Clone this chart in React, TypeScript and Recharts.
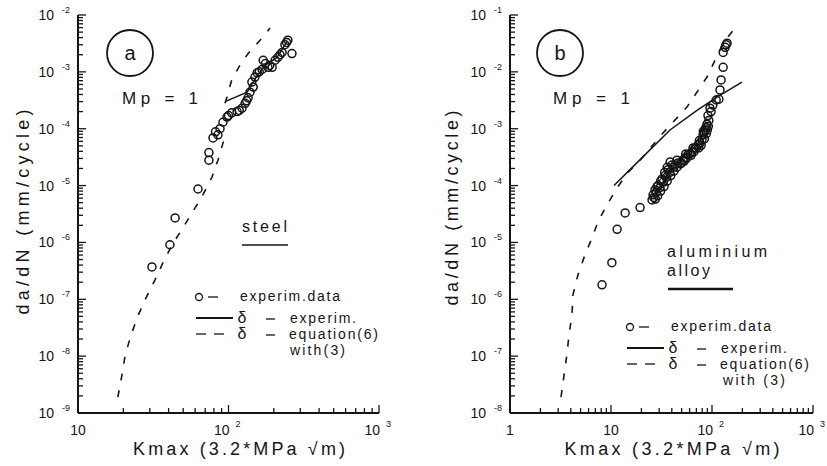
import React from 'react'
import { ScatterChart, Scatter, XAxis, YAxis } from 'recharts'

const INK = '#151515'
const FONT = '"Liberation Sans", Arial, sans-serif'

// ---- panel a: steel  [Kmax, da/dN] ----
const steelData: [number, number][] = [
  [31, 3.7e-7], [40.8, 9.1e-7], [44.2, 2.7e-6], [62.7, 8.7e-6],
  [74.1, 2.8e-5], [74.1, 3.8e-5], [78.9, 6.9e-5], [82, 8.8e-5],
  [85.1, 7.8e-5], [87.8, 1.0e-4], [91.9, 1.3e-4], [97.7, 1.6e-4],
  [100, 1.7e-4], [105, 1.9e-4], [114, 2.0e-4], [118, 2.1e-4],
  [123, 2.3e-4], [129, 2.8e-4], [132, 3.1e-4], [135, 3.5e-4],
  [139, 4.4e-4], [146, 5.4e-4], [143, 6.6e-4], [150, 8.1e-4],
  [155, 9.6e-4], [160, 1.0e-3], [167, 1.1e-3], [170, 1.6e-3],
  [176, 1.4e-3], [183, 1.2e-3], [188, 1.3e-3], [195, 1.2e-3],
  [204, 1.6e-3], [213, 1.8e-3], [220, 2.0e-3], [227, 2.2e-3],
  [237, 3.0e-3], [243, 3.3e-3], [248, 3.6e-3], [264, 2.1e-3],
]
// delta - equation(6) with (3), lower and upper branch
const steelModelLow: [number, number][] = [
  [18.4, 1.9e-9], [19.6, 4.7e-9], [20.5, 9.8e-9], [22.2, 2.1e-8],
  [24.7, 4.7e-8], [27.9, 9.8e-8], [32.5, 2.2e-7], [36.7, 4.4e-7],
  [42.2, 9.1e-7], [49.1, 1.7e-6], [57.2, 3.3e-6], [67.7, 6.9e-6],
  [77.6, 1.4e-5], [85.1, 2.8e-5], [93.3, 6.4e-5],
]
const steelModelHigh: [number, number][] = [
  [94.8, 2.8e-4], [97.7, 3.6e-4], [105, 7.2e-4], [119, 1.3e-3],
  [135, 2.1e-3], [162, 3.6e-3], [189, 5.9e-3],
]
// delta - experim.
const steelExperim: [number, number][] = [
  [94.8, 3.0e-4], [133, 4.4e-4], [150, 7.5e-4], [175, 1.3e-3],
  [210, 1.8e-3], [245, 3.4e-3],
]

// ---- panel b: aluminium alloy ----
const alloyData: [number, number][] = [
  [8.15, 1.8e-6], [10.2, 4.4e-6], [11.5, 1.7e-5], [13.8, 3.3e-5],
  [19.4, 4.1e-5], [25.5, 5.6e-5], [26.1, 6.9e-5], [26.5, 6.2e-5],
  [27.3, 8.4e-5], [28, 7.6e-5], [29.2, 1.0e-4], [30.5, 9.2e-5],
  [32, 1.3e-4], [33, 1.15e-4], [34.3, 1.5e-4], [35.5, 1.4e-4],
  [36.7, 1.9e-4], [38, 1.7e-4], [40.2, 2.3e-4], [41.5, 2.1e-4],
  [43, 2.3e-4], [46.1, 2.5e-4], [48.5, 2.4e-4], [51.6, 2.8e-4],
  [54.5, 3.1e-4], [57.8, 3.5e-4], [60.5, 3.6e-4], [63.4, 3.9e-4],
  [67.9, 4.6e-4], [70, 4.6e-4], [72.6, 5.2e-4], [76, 5.6e-4],
  [79.6, 6.4e-4], [81.5, 7.8e-4], [83.5, 8.5e-4], [85.3, 9.5e-4],
  [87, 1.05e-3], [89.2, 1.2e-3], [91.2, 1.7e-3], [95.5, 2.3e-3],
  [102, 2.6e-3], [110, 3.2e-3], [117, 3.3e-3], [120, 4.8e-3],
  [123, 7.2e-3], [129, 1.2e-2], [129, 2.2e-2], [135, 2.7e-2],
  [138, 3.0e-2], [141, 3.2e-2],
  // lower edge of the dense band
  [27.5, 5.8e-5], [29, 6.6e-5], [31, 8.0e-5], [33.5, 9.6e-5],
  [36, 1.2e-4], [39, 1.5e-4], [42, 1.8e-4], [45, 2.1e-4],
  [50, 2.5e-4], [53, 2.7e-4], [56, 3.0e-4], [62, 3.4e-4],
  [66, 3.9e-4], [74, 4.6e-4], [78, 5.1e-4], [84, 6.6e-4],
  [88, 8.2e-4], [90, 9.5e-4], [92, 1.1e-3], [93, 1.4e-3],
  [98, 2.0e-3],
  // upper edge of the dense band
  [28.5, 9.5e-5], [31, 1.2e-4], [34, 1.7e-4], [36, 2.1e-4],
  [38.5, 2.6e-4], [45, 2.8e-4], [55, 3.6e-4], [65, 4.6e-4],
  [75, 6.2e-4], [82, 9.0e-4],
]
const alloyModel: [number, number][] = [
  [3.2, 1.9e-8], [3.43, 4.7e-8], [3.67, 1.1e-7], [3.84, 2.4e-7],
  [4.11, 5.3e-7], [4.2, 1.2e-6], [4.71, 2.7e-6], [5.53, 6.1e-6],
  [6.49, 1.2e-5], [7.43, 2.3e-5], [9.13, 4.6e-5], [11.5, 9.1e-5],
  [14.7, 1.7e-4], [19.4, 2.8e-4], [32.7, 8.4e-4], [56.5, 2.4e-3],
  [89.2, 8.1e-3], [129, 3.2e-2], [169, 5.9e-2],
]
const alloyExperim: [number, number][] = [
  [10.7, 1.0e-4], [20.7, 3.2e-4], [38.4, 9.5e-4], [71, 2.1e-3],
  [112, 3.6e-3], [198, 6.6e-3],
]

// axis decades
const steelXDecades = [10, 100, 1000]
const steelYDecades = [1e-9, 1e-8, 1e-7, 1e-6, 1e-5, 1e-4, 1e-3, 1e-2]
const alloyXDecades = [1, 10, 100, 1000]
const alloyYDecades = [1e-8, 1e-7, 1e-6, 1e-5, 1e-4, 1e-3, 1e-2, 1e-1]
const minorSteps = [1, 2, 3, 4, 5, 6, 7, 8, 9]

const logTicks = (decades: number[]) => {
  const out: number[] = []
  decades.forEach((d, i) => {
    if (i === decades.length - 1) out.push(d)
    else minorSteps.forEach(m => out.push(m * d))
  })
  return out
}

const toPts = (rows: [number, number][]) => rows.map(([k, r]) => ({ k, r }))

const isDecade = (v: number) => {
  const l = Math.log10(v)
  return Math.abs(l - Math.round(l)) < 1e-6
}

// ticks point inwards; labels as 10 with a raised exponent
const YTick = (props: any) => {
  const { x, y, payload } = props
  const v = payload.value
  const major = isDecade(v)
  const e = Math.round(Math.log10(v))
  return (
    <g>
      <path d={`M${x},${y}h${major ? 8 : 5}`} stroke={INK} strokeWidth={1.3} fill="none" />
      {major && (
        <>
          <text x={x - 24} y={y + 5} textAnchor="end" fontSize={14} fill={INK} fontFamily={FONT}>10</text>
          <text x={x - 16} y={y - 2} fontSize={9} fill={INK} fontFamily={FONT}>{e}</text>
        </>
      )}
    </g>
  )
}

const XTick = (props: any) => {
  const { x, y, payload } = props
  const v = payload.value
  const major = isDecade(v)
  const e = Math.round(Math.log10(v))
  return (
    <g>
      <path d={`M${x},${y}v${major ? -8 : -5}`} stroke={INK} strokeWidth={1.3} fill="none" />
      {major && e <= 1 && (
        <text x={x} y={y + 22} textAnchor="middle" fontSize={14} fill={INK} fontFamily={FONT}>{e === 0 ? '1' : '10'}</text>
      )}
      {major && e > 1 && (
        <>
          <text x={x + 1} y={y + 22} textAnchor="end" fontSize={14} fill={INK} fontFamily={FONT}>10</text>
          <text x={x + 7} y={y + 14} fontSize={9} fill={INK} fontFamily={FONT}>{e}</text>
        </>
      )}
    </g>
  )
}

const OpenCircle = (props: any) => (
  <circle cx={props.cx} cy={props.cy} r={4} fill="none" stroke={INK} strokeWidth={1.5} />
)
const NoDot = () => <g />

const solid = { stroke: INK, strokeWidth: 1.5 }
const dashed = { stroke: INK, strokeWidth: 1.6, strokeDasharray: '7 10' }

interface PanelProps {
  width: number
  marginLeft: number
  marginRight: number
  xDecades: number[]
  yDecades: number[]
  points: [number, number][]
  dashedLines: [number, number][][]
  solidLine: [number, number][]
}

function Panel(p: PanelProps) {
  const xDomain = [p.xDecades[0], p.xDecades[p.xDecades.length - 1]]
  const yDomain = [p.yDecades[0], p.yDecades[p.yDecades.length - 1]]
  return (
    <ScatterChart
      width={p.width}
      height={466}
      margin={{ top: 15, right: p.marginRight, bottom: 13, left: p.marginLeft }}
    >
      <XAxis
        dataKey="k"
        type="number"
        scale="log"
        domain={xDomain}
        ticks={logTicks(p.xDecades)}
        interval={0}
        tick={<XTick />}
        tickLine={false}
        tickSize={0}
        tickMargin={0}
        height={40}
        axisLine={{ stroke: INK, strokeWidth: 2 }}
      />
      <YAxis
        dataKey="r"
        type="number"
        scale="log"
        domain={yDomain}
        ticks={logTicks(p.yDecades)}
        interval={0}
        tick={<YTick />}
        tickLine={false}
        tickSize={0}
        tickMargin={0}
        width={60}
        axisLine={{ stroke: INK, strokeWidth: 2 }}
      />
      {p.dashedLines.map((d, i) => (
        <Scatter
          key={'d' + i}
          data={toPts(d)}
          fill={INK}
          line={dashed}
          shape={NoDot}
          isAnimationActive={false}
        />
      ))}
      <Scatter data={toPts(p.solidLine)} fill={INK} line={solid} shape={NoDot} isAnimationActive={false} />
      <Scatter data={toPts(p.points)} fill="none" shape={OpenCircle} isAnimationActive={false} />
    </ScatterChart>
  )
}

const txt = { fill: INK, fontFamily: FONT }

function Legend({ x, y }: { x: number; y: number }) {
  // x: left of the symbol column, y: baseline of first row
  return (
    <g {...txt}>
      <circle cx={x + 3} cy={y - 4} r={3.5} fill="none" stroke={INK} strokeWidth={1.3} />
      <line x1={x + 12} x2={x + 22} y1={y - 4} y2={y - 4} stroke={INK} strokeWidth={1.3} />
      <text x={x + 44} y={y} fontSize={14} textLength={100} lengthAdjust="spacing">experim.data</text>

      <line x1={x} x2={x + 37} y1={y + 17} y2={y + 17} stroke={INK} strokeWidth={2} />
      <text x={x + 46} y={y + 22} fontSize={16} textAnchor="middle">δ</text>
      <line x1={x + 70} x2={x + 79} y1={y + 18} y2={y + 18} stroke={INK} strokeWidth={1.3} />
      <text x={x + 94} y={y + 22} fontSize={14} textLength={66} lengthAdjust="spacing">experim.</text>

      <line x1={x} x2={x + 10} y1={y + 33} y2={y + 33} stroke={INK} strokeWidth={1.3} />
      <line x1={x + 18} x2={x + 28} y1={y + 33} y2={y + 33} stroke={INK} strokeWidth={1.3} />
      <text x={x + 46} y={y + 38} fontSize={16} textAnchor="middle">δ</text>
      <line x1={x + 70} x2={x + 79} y1={y + 34} y2={y + 34} stroke={INK} strokeWidth={1.3} />
      <text x={x + 93} y={y + 38} fontSize={14} textLength={89} lengthAdjust="spacing">equation(6)</text>
    </g>
  )
}

function Annotations() {
  return (
    <svg width={827} height={466} style={{ position: 'absolute', left: 0, top: 0, pointerEvents: 'none' }}>
      <g {...txt}>
        {/* panel a */}
        <circle cx={130} cy={53} r={23} fill="none" stroke={INK} strokeWidth={1.8} />
        <text x={130} y={60} fontSize={20} textAnchor="middle">a</text>
        <text x={122} y={104} fontSize={17} textLength={76} lengthAdjust="spacing">Mp = 1</text>
        <text x={242} y={232} fontSize={16} textLength={45} lengthAdjust="spacing">steel</text>
        <line x1={242} x2={288} y1={245} y2={245} stroke={INK} strokeWidth={1.6} />
        <text transform="translate(29,212) rotate(-90)" fontSize={18} textAnchor="middle" textLength={205} lengthAdjust="spacing">da/dN (mm/cycle)</text>
        <text x={239} y={455} fontSize={18} textAnchor="middle" textLength={212} lengthAdjust="spacing">Kmax (3.2*MPa √m)</text>
        <Legend x={196} y={301} />
        <text x={290} y={355} fontSize={14} textLength={55} lengthAdjust="spacing">with(3)</text>

        {/* panel b */}
        <circle cx={560} cy={53} r={23} fill="none" stroke={INK} strokeWidth={1.8} />
        <text x={560} y={60} fontSize={20} textAnchor="middle">b</text>
        <text x={553} y={104} fontSize={17} textLength={77} lengthAdjust="spacing">Mp = 1</text>
        <text x={667} y={257} fontSize={16} textLength={100} lengthAdjust="spacing">aluminium</text>
        <text x={667} y={276} fontSize={16} textLength={43} lengthAdjust="spacing">alloy</text>
        <line x1={668} x2={733} y1={289} y2={289} stroke={INK} strokeWidth={2.6} />
        <text transform="translate(458,208) rotate(-90)" fontSize={18} textAnchor="middle" textLength={195} lengthAdjust="spacing">da/dN (mm/cycle)</text>
        <text x={672} y={455} fontSize={18} textAnchor="middle" textLength={215} lengthAdjust="spacing">Kmax (3.2*MPa √m)</text>
        <Legend x={627} y={331} />
        <text x={723} y={385} fontSize={14} textLength={62} lengthAdjust="spacing">with (3)</text>
      </g>
    </svg>
  )
}

export default function App() {
  return (
    <div style={{ position: 'absolute', left: 0, top: 0, width: 827, height: 466, background: '#fff' }}>
      <div style={{ position: 'absolute', left: 0, top: 0, display: 'flex' }}>
        <Panel
          width={413}
          marginLeft={18}
          marginRight={34}
          xDecades={steelXDecades}
          yDecades={steelYDecades}
          points={steelData}
          dashedLines={[steelModelLow, steelModelHigh]}
          solidLine={steelExperim}
        />
        <Panel
          width={414}
          marginLeft={37}
          marginRight={14}
          xDecades={alloyXDecades}
          yDecades={alloyYDecades}
          points={alloyData}
          dashedLines={[alloyModel]}
          solidLine={alloyExperim}
        />
      </div>
      <Annotations />
    </div>
  )
}
